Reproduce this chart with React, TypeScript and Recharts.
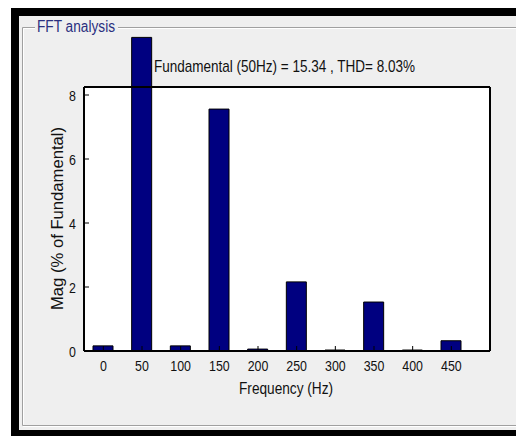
import React from "react";
import { BarChart, Bar, XAxis, YAxis, CartesianGrid, Label } from "recharts";

const freqs = [0, 50, 100, 150, 200, 250, 300, 350, 400, 450];
const mags = [0.16, 9.8, 0.16, 7.56, 0.06, 2.16, 0.03, 1.53, 0.03, 0.32];
const xTicks = [0, 50, 100, 150, 200, 250, 300, 350, 400, 450];
const yTicks = [0, 2, 4, 6, 8];
const titleText = "Fundamental (50Hz) = 15.34 , THD= 8.03%";
const xLabel = "Frequency (Hz)";
const yLabel = "Mag (% of Fundamental)";
const panelTitle = "FFT analysis";

const data = freqs.map((f, i) => ({ freq: f, mag: mags[i] }));

const FONT = "'Liberation Sans', Arial, sans-serif";

const XTick = (props: any) => {
  const { x, y, payload } = props;
  return (
    <text
      transform={`translate(${x},${y + 20}) scale(0.8,1)`}
      textAnchor="middle"
      fontFamily={FONT}
      fontSize={15.5}
      fill="#111"
    >
      {payload.value}
    </text>
  );
};

const YTick = (props: any) => {
  const { x, y, payload } = props;
  return (
    <text
      transform={`translate(${x - 8},${y + 5.5}) scale(0.8,1)`}
      textAnchor="end"
      fontFamily={FONT}
      fontSize={15.5}
      fill="#111"
    >
      {payload.value}
    </text>
  );
};

const XLabelContent = (props: any) => {
  const vb = props.viewBox || {};
  const cx = vb.x + vb.width / 2 - 1;
  return (
    <text
      x={cx - 47}
      y={vb.y + 43}
      textLength={94}
      lengthAdjust="spacingAndGlyphs"
      fontFamily={FONT}
      fontSize={16}
      fill="#111"
    >
      {xLabel}
    </text>
  );
};

const YLabelContent = (props: any) => {
  const vb = props.viewBox || {};
  const cy = vb.y + vb.height / 2;
  const bx = 63;
  return (
    <text
      x={bx}
      y={cy + 91}
      transform={`rotate(-90, ${bx}, ${cy + 91})`}
      textLength={183}
      lengthAdjust="spacingAndGlyphs"
      fontFamily={FONT}
      fontSize={17}
      fill="#111"
    >
      {yLabel}
    </text>
  );
};

export default function App() {
  return (
    <div style={{ position: "absolute", left: 0, top: 0, width: 516, height: 436, background: "#fff", overflow: "hidden" }}>
      <style>{`.recharts-bar, .recharts-bar-rectangles, .recharts-bar-rectangle, .recharts-bar g { clip-path: none !important; }`}</style>
      <svg width={516} height={436} style={{ position: "absolute", left: 0, top: 0 }}>
        <rect x={11} y={8} width={505} height={428} fill="#000" />
        <rect x={19} y={16} width={497} height={414} fill="#efefef" />
        <polyline points="35,27.5 22.5,27.5 22.5,425.5 516,425.5" fill="none" stroke="#a0a0a0" strokeWidth={1} />
        <polyline points="35,28.5 23.5,28.5 23.5,424.5" fill="none" stroke="#fff" strokeWidth={1} />
        <line x1={118} y1={27.5} x2={516} y2={27.5} stroke="#a0a0a0" strokeWidth={1} />
        <line x1={118} y1={28.5} x2={516} y2={28.5} stroke="#fff" strokeWidth={1} />
        <line x1={23} y1={426.5} x2={516} y2={426.5} stroke="#fff" strokeWidth={1} />
        <text x={37} y={32} textLength={78} lengthAdjust="spacingAndGlyphs" fontFamily={FONT} fontSize={16} fill="#2a2f7f">
          {panelTitle}
        </text>
        <text x={154} y={72} textLength={261} lengthAdjust="spacingAndGlyphs" fontFamily={FONT} fontSize={17} fill="#111">
          {titleText}
        </text>
      </svg>
      <div style={{ position: "absolute", left: 0, top: 0 }}>
        <BarChart
          width={516}
          height={436}
          data={data}
          margin={{ top: 86, right: 25, bottom: 45, left: 24 }}
        >
          <CartesianGrid fill="#fff" horizontal={false} vertical={false} />
          <XAxis
            xAxisId="bottom"
            dataKey="freq"
            type="number"
            domain={[-25, 500]}
            ticks={xTicks}
            interval={0}
            height={40}
            tickSize={-5}
            tickMargin={5}
            tick={<XTick />}
            axisLine={{ stroke: "#000", strokeWidth: 2 }}
            tickLine={{ stroke: "#000" }}
          >
            <Label content={<XLabelContent />} />
          </XAxis>
          <XAxis
            xAxisId="top"
            orientation="top"
            dataKey="freq"
            type="number"
            domain={[-25, 500]}
            ticks={xTicks}
            interval={0}
            height={1}
            tickSize={-5}
            tick={false}
            axisLine={{ stroke: "#000", strokeWidth: 2 }}
            tickLine={{ stroke: "#000" }}
          />
          <YAxis
            yAxisId="left"
            type="number"
            domain={[0, 8.25]}
            allowDataOverflow
            ticks={yTicks}
            interval={0}
            width={60}
            tickSize={-5}
            tickMargin={5}
            tick={<YTick />}
            axisLine={{ stroke: "#000", strokeWidth: 2 }}
            tickLine={{ stroke: "#000" }}
          >
            <Label content={<YLabelContent />} />
          </YAxis>
          <YAxis
            yAxisId="right"
            orientation="right"
            type="number"
            domain={[0, 8.25]}
            allowDataOverflow
            ticks={yTicks}
            interval={0}
            width={1}
            tickSize={-5}
            tick={false}
            axisLine={{ stroke: "#000", strokeWidth: 2 }}
            tickLine={{ stroke: "#000" }}
          />
          <Bar
            xAxisId="bottom"
            yAxisId="left"
            dataKey="mag"
            barSize={20}
            fill="#000080"
            stroke="#000"
            strokeWidth={1}
            isAnimationActive={false}
          />
        </BarChart>
      </div>
    </div>
  );
}
